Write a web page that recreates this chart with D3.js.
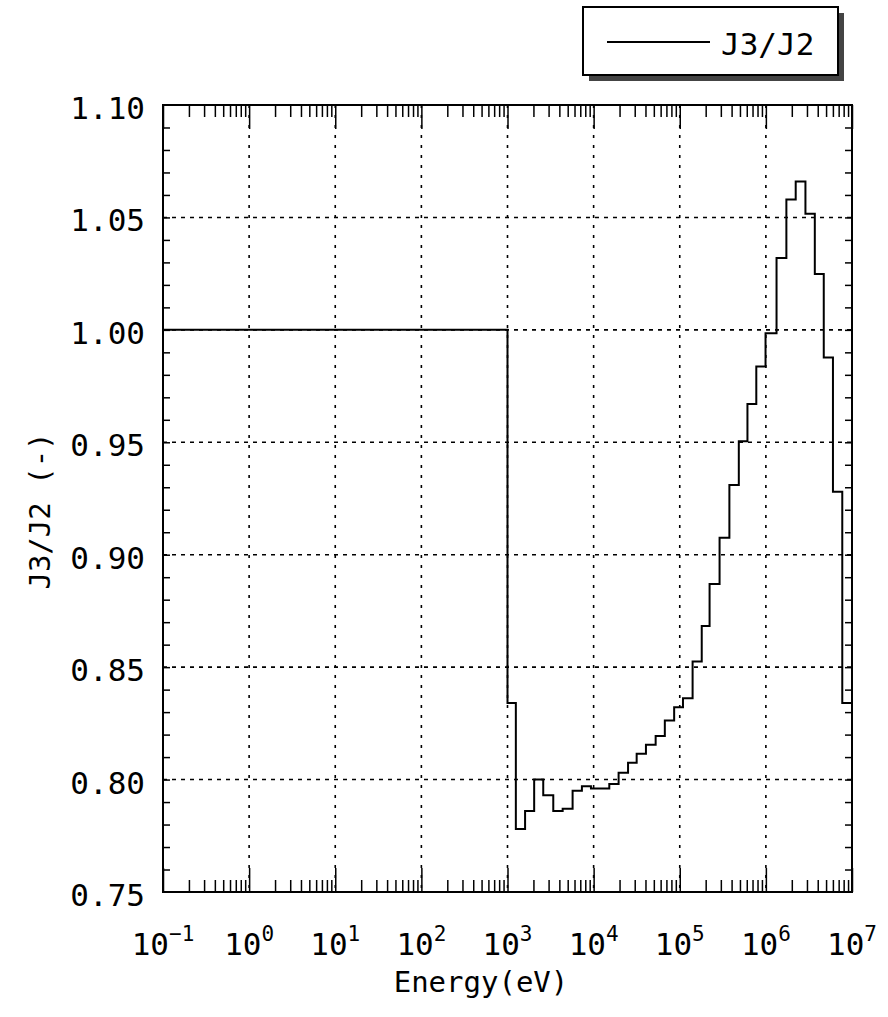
<!DOCTYPE html>
<html>
<head>
<meta charset="utf-8">
<script src="https://cdn.jsdelivr.net/npm/d3@7"></script>
<style>
  body { margin: 0; background: #fff; }
  text { font-family: "DejaVu Sans Mono", "Liberation Mono", monospace; fill: #000; }
</style>
</head>
<body>
<svg id="chart" width="888" height="1017"></svg>
<script>
// group boundaries (eV) and J3/J2 ratio for each group
let edges = [0.1, 1000, 1250, 1600, 2040, 2600, 3400, 4370, 5700, 7310, 9310,
	11900, 15200, 19500, 25100, 31600, 40500, 52500, 67100, 86100, 109000,
	141000, 180000, 222000, 290000, 377000, 485000, 611000, 774000, 991000, 1.33e6,
	1.73e6, 2.22e6, 2.88e6, 3.70e6, 4.70e6, 6.01e6, 7.71e6, 1e7];
let ratio = [1.000, 0.834, 0.778, 0.786, 0.800, 0.793, 0.786, 0.787, 0.795, 0.797,
	0.796, 0.796, 0.798, 0.803, 0.8075, 0.8115, 0.8155, 0.8194, 0.8263, 0.8322,
	0.8362, 0.8525, 0.8683, 0.887, 0.9076, 0.931, 0.9505, 0.967, 0.9837, 0.9985,
	1.032, 1.058, 1.066, 1.0516, 1.0248, 0.9877, 0.928, 0.834];

let yTicks = [0.75, 0.80, 0.85, 0.90, 0.95, 1.00, 1.05, 1.10];
let yLabels = ["0.75", "0.80", "0.85", "0.90", "0.95", "1.00", "1.05", "1.10"];
let xExponents = [-1, 0, 1, 2, 3, 4, 5, 6, 7];
let seriesName = "J3/J2";

let margin = { top: 105, right: 36, bottom: 125, left: 163 };
let width = 888, height = 1017;

let svg = d3.select("#chart");

let x = d3.scaleLog()
	.domain([0.1, 1e7])
	.range([margin.left, width - margin.right]);

let y = d3.scaleLinear()
	.domain([0.75, 1.10])
	.range([height - margin.bottom, margin.top]);

let x0 = x.range()[0], x1 = x.range()[1];
let y0 = y.range()[0], y1 = y.range()[1];

let decades = xExponents.map(e => Math.pow(10, e));
let minors = [];
xExponents.slice(0, -1).forEach(e => {
	for (let m = 2; m <= 9; m++) minors.push(m * Math.pow(10, e));
});
let yMinors = d3.range(76, 110).map(d => d / 100);

// grid
svg.append("g")
	.selectAll("line")
	.data(yTicks.slice(1, -1))
	.enter().append("line")
	.attr("x1", x0).attr("x2", x1)
	.attr("y1", d => y(d)).attr("y2", d => y(d))
	.attr("stroke", "#000")
	.attr("stroke-width", 1.6)
	.attr("stroke-dasharray", "4,5");

svg.append("g")
	.selectAll("line")
	.data(decades.slice(1, -1))
	.enter().append("line")
	.attr("x1", d => x(d)).attr("x2", d => x(d))
	.attr("y1", y1).attr("y2", y0)
	.attr("stroke", "#000")
	.attr("stroke-width", 1.6)
	.attr("stroke-dasharray", "3,7");

// inward ticks on all four sides
function ticks(axis, pos, values, size) {
	svg.append("g")
		.attr("transform", pos)
		.call(axis.tickValues(values).tickSize(size).tickFormat(""))
		.call(g => g.select(".domain").remove())
		.call(g => g.selectAll("line").attr("stroke-width", 1.5));
}
ticks(d3.axisBottom(x), "translate(0," + y0 + ")", minors, -12);
ticks(d3.axisBottom(x), "translate(0," + y0 + ")", decades, -24);
ticks(d3.axisTop(x), "translate(0," + y1 + ")", minors, -12);
ticks(d3.axisTop(x), "translate(0," + y1 + ")", decades, -24);
ticks(d3.axisLeft(y), "translate(" + x0 + ",0)", yMinors, -7);
ticks(d3.axisRight(y), "translate(" + x1 + ",0)", yMinors, -7);

// frame
svg.append("rect")
	.attr("x", x0).attr("y", y1)
	.attr("width", x1 - x0).attr("height", y0 - y1)
	.attr("fill", "none")
	.attr("stroke", "#000")
	.attr("stroke-width", 2);

// step line
let points = edges.map((e, i) => [e, ratio[Math.min(i, ratio.length - 1)]]);
let line = d3.line()
	.x(d => x(d[0]))
	.y(d => y(d[1]))
	.curve(d3.curveStepAfter);

svg.append("path")
	.datum(points)
	.attr("d", line)
	.attr("fill", "none")
	.attr("stroke", "#000")
	.attr("stroke-width", 2);

// y tick labels
svg.append("g")
	.selectAll("text")
	.data(yTicks)
	.enter().append("text")
	.attr("x", x0 - 18)
	.attr("y", d => y(d) + 14)
	.attr("text-anchor", "end")
	.style("font-size", "31px")
	.text((d, i) => yLabels[i]);

// x tick labels 10^n
let xl = svg.append("g")
	.selectAll("text")
	.data(xExponents)
	.enter().append("text")
	.attr("x", d => x(Math.pow(10, d)))
	.attr("y", 955)
	.attr("text-anchor", "middle")
	.style("font-size", "31px");
xl.append("tspan").text("10");
xl.append("tspan")
	.attr("dy", -14)
	.style("font-size", "21px")
	.text(d => d < 0 ? "\u2212" + (-d) : d);

// axis titles
svg.append("text")
	.attr("x", 481)
	.attr("y", 992)
	.attr("text-anchor", "middle")
	.style("font-size", "29px")
	.text("Energy(eV)");

svg.append("text")
	.attr("transform", "translate(50,511) rotate(-90)")
	.attr("text-anchor", "middle")
	.style("font-size", "29px")
	.text("J3/J2 (-)");

// legend
let lg = svg.append("g");
lg.append("rect")
	.attr("x", 589).attr("y", 13)
	.attr("width", 255).attr("height", 68)
	.attr("fill", "#444");
lg.append("rect")
	.attr("x", 583).attr("y", 7)
	.attr("width", 255).attr("height", 68)
	.attr("fill", "#fff")
	.attr("stroke", "#000")
	.attr("stroke-width", 2);
lg.append("line")
	.attr("x1", 607).attr("x2", 710)
	.attr("y1", 42).attr("y2", 42)
	.attr("stroke", "#000")
	.attr("stroke-width", 2);
lg.append("text")
	.attr("x", 721)
	.attr("y", 55)
	.style("font-size", "31px")
	.text(seriesName);
</script>
</body>
</html>
